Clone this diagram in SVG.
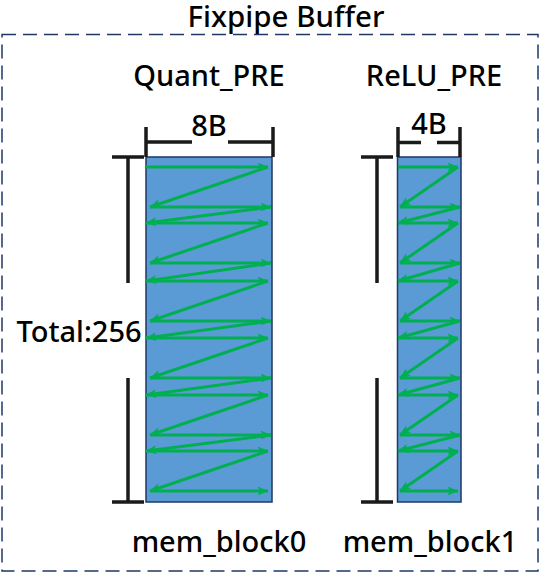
<svg xmlns="http://www.w3.org/2000/svg" width="540" height="574" viewBox="0 0 540 574">
<defs>
<marker id="ah" viewBox="0 0 11 9" refX="10.5" refY="4.5" markerWidth="11" markerHeight="9" markerUnits="userSpaceOnUse" orient="auto">
<path d="M0,0 L11,4.5 L0,9 L2.5,4.5 Z" fill="#00B050"/>
</marker>
</defs>
<style>
text{font-family:"Noto Sans","Open Sans","Liberation Sans",sans-serif;fill:#000;font-weight:500;}
.lbl{font-size:29px;text-anchor:middle;}
.title{font-size:29.5px;text-anchor:middle;}
.blk{fill:#5B9BD5;stroke:#1F3864;stroke-width:1.5;}
.dim{stroke:#1a1a1a;stroke-width:3.5;fill:none;}
.zz{stroke:#00B050;stroke-width:3;fill:none;marker-end:url(#ah);}
</style>
<rect id="buffer" x="2" y="34.5" width="536" height="536.5" fill="none" stroke="#203864" stroke-width="1.5" stroke-dasharray="14,7"/>
<text class="title" x="286" y="27">Fixpipe Buffer</text>
<g id="quant_pre">
<text class="lbl" x="209" y="86">Quant_PRE</text>
<rect class="blk" x="146" y="157" width="126" height="345"/>
<text class="lbl" x="209" y="136">8B</text>
<text class="lbl" x="219" y="552">mem_block0</text>
</g>
<g id="relu_pre">
<text class="lbl" x="434" y="86">ReLU_PRE</text>
<rect class="blk" x="397.5" y="157" width="63.5" height="345"/>
<text class="lbl" x="429" y="134">4B</text>
<text class="lbl" x="430" y="552">mem_block1</text>
</g>
<g id="total">
<text class="lbl" x="79" y="342">Total:256</text>
</g>
<g id="dimensions">
<path class="dim" d="M146,127 V157 M273,127 V157 M146,142 H192 M228,142 H273"/>
<path class="dim" d="M398,127 V157 M460,127 V157 M398,142.5 H421 M437,142.5 H460"/>
<path class="dim" d="M112,157 H144 M128,157 V283 M128,378 V502 M112,502 H144"/>
<path class="dim" d="M361,157 H393 M377,157 V283 M377,378 V502 M361,502 H393"/>
</g>
<g id="connectors">
<path class="zz" d="M146,167 H268"/>
<path class="zz" d="M268,167 L150,207"/>
<path class="zz" d="M150,207 H271"/>
<path class="zz" d="M271,207 L146,223"/>
<path class="zz" d="M146,223 H268"/>
<path class="zz" d="M268,223 L150,263"/>
<path class="zz" d="M150,263 H271"/>
<path class="zz" d="M271,263 L146,281"/>
<path class="zz" d="M146,281 H268"/>
<path class="zz" d="M268,281 L150,321"/>
<path class="zz" d="M150,321 H271"/>
<path class="zz" d="M271,321 L146,338"/>
<path class="zz" d="M146,338 H268"/>
<path class="zz" d="M268,338 L150,378"/>
<path class="zz" d="M150,378 H271"/>
<path class="zz" d="M271,378 L146,395"/>
<path class="zz" d="M146,395 H268"/>
<path class="zz" d="M268,395 L150,435"/>
<path class="zz" d="M150,435 H271"/>
<path class="zz" d="M271,435 L146,451"/>
<path class="zz" d="M146,451 H268"/>
<path class="zz" d="M268,451 L150,491"/>
<path class="zz" d="M150,491 H268"/>

<path class="zz" d="M398,167 H458"/>
<path class="zz" d="M458,167 L400,207"/>
<path class="zz" d="M400,207 H460"/>
<path class="zz" d="M460,207 L398,223"/>
<path class="zz" d="M398,223 H458"/>
<path class="zz" d="M458,223 L400,263"/>
<path class="zz" d="M400,263 H460"/>
<path class="zz" d="M460,263 L398,281"/>
<path class="zz" d="M398,281 H458"/>
<path class="zz" d="M458,281 L400,321"/>
<path class="zz" d="M400,321 H460"/>
<path class="zz" d="M460,321 L398,338"/>
<path class="zz" d="M398,338 H458"/>
<path class="zz" d="M458,338 L400,378"/>
<path class="zz" d="M400,378 H460"/>
<path class="zz" d="M460,378 L398,395"/>
<path class="zz" d="M398,395 H458"/>
<path class="zz" d="M458,395 L400,435"/>
<path class="zz" d="M400,435 H460"/>
<path class="zz" d="M460,435 L398,451"/>
<path class="zz" d="M398,451 H458"/>
<path class="zz" d="M458,451 L400,491"/>
<path class="zz" d="M400,491 H458"/>
</g>
</svg>
